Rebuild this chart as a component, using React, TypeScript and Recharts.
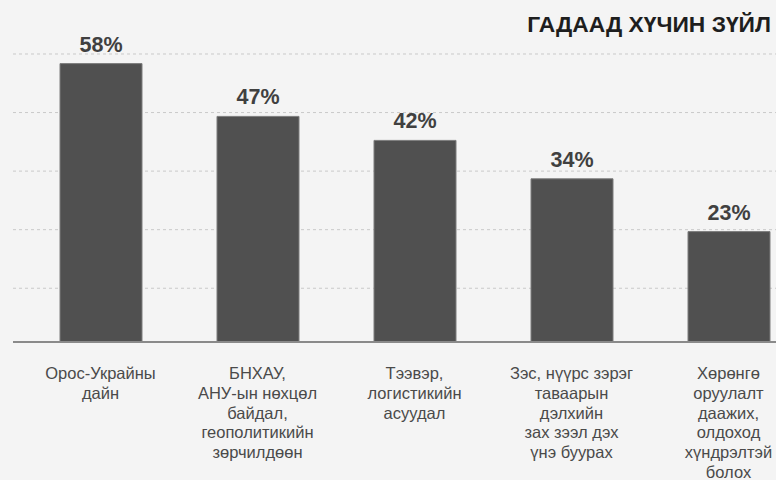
import { BarChart, Bar, XAxis, YAxis, CartesianGrid, LabelList } from 'recharts';

// categories, one line per array entry as in the original layout
const categories: string[] = [
  'Орос-Украйны\nдайн',
  'БНХАУ,\nАНУ-ын нөхцөл\nбайдал,\nгеополитикийн\nзөрчилдөөн',
  'Тээвэр,\nлогистикийн\nасуудал',
  'Зэс, нүүрс зэрэг\nтаваарын\nдэлхийн\nзах зээл дэх\nүнэ буурах',
  'Хөрөнгө\nоруулалт\nдаажих,\nолдоход\nхүндрэлтэй\nболох',
];

const shares: number[] = [58, 47, 42, 34, 23];

// dashed guide lines (in % units)
const gridValues: number[] = [11.2, 23.4, 35.6, 47.8, 60];

const title = 'ГАДААД ХҮЧИН ЗҮЙЛ';

const data = categories.map((name, i) => ({ name, value: shares[i] }));

const FONT = '"Liberation Sans", Arial, Helvetica, sans-serif';

const CategoryTick = ({ x, y, payload }: any) => {
  const lines = String(payload.value).split('\n');
  return (
    <text x={x} y={y} textAnchor="middle" fill="#4a4a4a" fontSize={16.5} fontFamily={FONT}>
      {lines.map((line, i) => (
        <tspan key={i} x={x} dy={i === 0 ? 37 : 19.8}>
          {line}
        </tspan>
      ))}
    </text>
  );
};

export default function App() {
  return (
    <div
      style={{
        position: 'fixed',
        left: 0,
        top: 0,
        width: 776,
        height: 480,
        overflow: 'hidden',
        background: '#f4f4f4',
        fontFamily: FONT,
      }}
    >
      <div
        style={{
          position: 'absolute',
          right: 5,
          top: 12,
          fontSize: 22.8,
          lineHeight: '25px',
          fontWeight: 700,
          color: '#1e1e1e',
          whiteSpace: 'nowrap',
        }}
      >
        {title}
      </div>
      <BarChart
        width={810}
        height={480}
        data={data}
        margin={{ top: 54, right: 3, bottom: 108, left: 13 }}
      >
        <CartesianGrid vertical={false} stroke="#c9c9c9" strokeDasharray="3 3" />
        <YAxis hide domain={[0, 60]} ticks={gridValues} />
        <XAxis
          dataKey="name"
          height={30}
          interval={0}
          padding={{ left: 9, right: 0 }}
          tickLine={false}
          tickSize={0}
          tickMargin={0}
          axisLine={{ stroke: '#8a8a8a', strokeWidth: 2 }}
          tick={<CategoryTick />}
        />
        <Bar dataKey="value" fill="#505050" stroke="#7d7d7d" strokeWidth={1} barSize={82} isAnimationActive={false}>
          <LabelList
            dataKey="value"
            position="top"
            offset={12}
            formatter={(v: any) => `${v}%`}
            fill="#404040"
            fontSize={21.5}
            fontWeight={700}
            fontFamily={FONT}
          />
        </Bar>
      </BarChart>
    </div>
  );
}
